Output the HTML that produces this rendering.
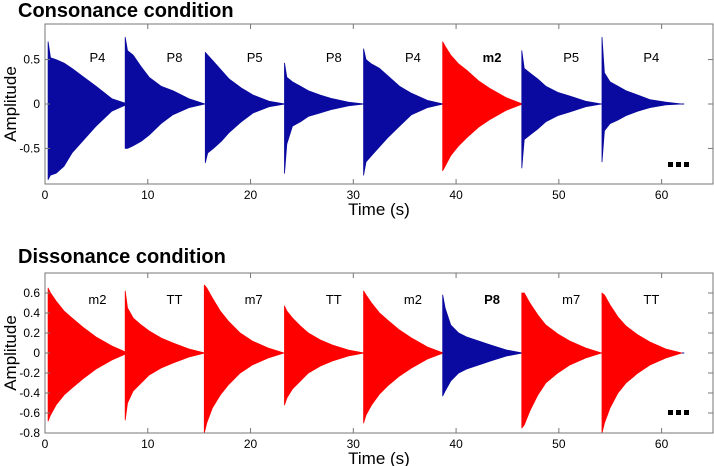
<!DOCTYPE html>
<html><head><meta charset="utf-8">
<style>
html,body{margin:0;padding:0;background:#fff;}
svg{display:block;font-family:"Liberation Sans",Arial,sans-serif;}
</style></head>
<body>
<svg id="chart" width="714" height="466" viewBox="0 0 714 466" xmlns="http://www.w3.org/2000/svg">
<text x="18" y="17" font-size="20" font-weight="bold">Consonance condition</text>
<text x="18" y="263" font-size="20" font-weight="bold">Dissonance condition</text>
<g id="p1"></g>
<g id="p2"></g>
</svg>
<script>
// Shared envelope sample fractions along each note (0 = onset, 1 = end)
const envFractions = [0, 0.03, 0.1, 0.2, 0.3, 0.45, 0.6, 0.8, 1.0];
const noteDuration = 7.75;

// Consonance panel data
const consStarts = [0.3, 7.8, 15.6, 23.3, 31.0, 38.7, 46.4, 54.2];
const consLabels = ["P4","P8","P5","P8","P4","m2","P5","P4"];
const consColors = ["blue","blue","blue","blue","blue","red","blue","blue"];
const consPos = [
 [0.70,0.52,0.50,0.46,0.40,0.30,0.20,0.06,0],
 [0.75,0.60,0.55,0.42,0.30,0.20,0.15,0.06,0],
 [0.58,0.55,0.48,0.38,0.28,0.18,0.10,0.03,0],
 [0.46,0.30,0.25,0.20,0.15,0.10,0.06,0.02,0],
 [0.62,0.50,0.45,0.40,0.32,0.20,0.12,0.04,0],
 [0.70,0.65,0.55,0.45,0.38,0.26,0.17,0.07,0],
 [0.60,0.40,0.35,0.28,0.20,0.13,0.09,0.03,0],
 [0.75,0.35,0.25,0.20,0.15,0.10,0.05,0.02,0]
];
const consNeg = [
 [-0.85,-0.80,-0.78,-0.70,-0.55,-0.40,-0.25,-0.08,0],
 [-0.50,-0.50,-0.47,-0.42,-0.35,-0.22,-0.12,-0.04,0],
 [-0.66,-0.55,-0.50,-0.42,-0.32,-0.20,-0.10,-0.03,0],
 [-0.78,-0.45,-0.25,-0.20,-0.14,-0.10,-0.06,-0.02,0],
 [-0.80,-0.65,-0.58,-0.48,-0.38,-0.25,-0.12,-0.04,0],
 [-0.75,-0.70,-0.58,-0.47,-0.38,-0.26,-0.17,-0.07,0],
 [-0.72,-0.40,-0.35,-0.28,-0.20,-0.13,-0.09,-0.03,0],
 [-0.65,-0.30,-0.22,-0.18,-0.13,-0.08,-0.04,-0.01,0]
];
const consYTicks = [-0.5, 0, 0.5];
const consYTickLabels = ["-0.5","0","0.5"];

// Dissonance panel data
const disStarts = [0.3, 7.8, 15.5, 23.3, 31.0, 38.7, 46.4, 54.2];
const disLabels = ["m2","TT","m7","TT","m2","P8","m7","TT"];
const disColors = ["red","red","red","red","red","blue","red","red"];
const disPos = [
 [0.65,0.60,0.52,0.42,0.35,0.25,0.16,0.07,0],
 [0.62,0.45,0.35,0.28,0.22,0.15,0.10,0.04,0],
 [0.68,0.65,0.55,0.42,0.32,0.20,0.12,0.05,0],
 [0.47,0.42,0.35,0.27,0.20,0.13,0.08,0.03,0],
 [0.62,0.58,0.50,0.40,0.33,0.23,0.15,0.06,0],
 [0.58,0.45,0.28,0.20,0.16,0.12,0.08,0.03,0],
 [0.60,0.60,0.50,0.38,0.28,0.19,0.12,0.05,0],
 [0.60,0.58,0.48,0.36,0.27,0.18,0.11,0.04,0]
];
const disNeg = [
 [-0.68,-0.62,-0.52,-0.42,-0.35,-0.25,-0.16,-0.07,0],
 [-0.67,-0.50,-0.38,-0.30,-0.22,-0.15,-0.10,-0.04,0],
 [-0.80,-0.70,-0.55,-0.42,-0.32,-0.20,-0.12,-0.05,0],
 [-0.52,-0.45,-0.36,-0.28,-0.20,-0.13,-0.08,-0.03,0],
 [-0.70,-0.62,-0.52,-0.41,-0.33,-0.23,-0.15,-0.06,0],
 [-0.43,-0.38,-0.28,-0.20,-0.16,-0.12,-0.08,-0.03,0],
 [-0.75,-0.72,-0.58,-0.42,-0.30,-0.20,-0.12,-0.05,0],
 [-0.80,-0.70,-0.55,-0.40,-0.30,-0.20,-0.12,-0.05,0]
];
const disYTicks = [-0.8,-0.6,-0.4,-0.2,0,0.2,0.4,0.6];
const disYTickLabels = ["-0.8","-0.6","-0.4","-0.2","0","0.2","0.4","0.6"];

const xTicks = [0,10,20,30,40,50,60];
const xTickLabels = ["0","10","20","30","40","50","60"];

const NS = "http://www.w3.org/2000/svg";
const colorMap = {blue:"#0a0aa0", red:"#ff0000"};

function mk(parent, tag, attrs){
  const e = document.createElementNS(NS, tag);
  for (const k in attrs) e.setAttribute(k, attrs[k]);
  parent.appendChild(e);
  return e;
}

function drawPanel(g, box, ylim, starts, labels, colors, pos, neg, yTicks, yTickLabels, labelY, dotsY){
  const xScale = t => box.x0 + (t - 0) / 65 * (box.x1 - box.x0);
  const yScale = v => box.y1 - (v - ylim[0]) / (ylim[1] - ylim[0]) * (box.y1 - box.y0);
  const bl = mk(g, "line", {x1: xScale(0), x2: xScale(62.2), y1: yScale(0), y2: yScale(0), stroke: "#0a0aa0", "stroke-width": 1});
  
  
  for (let i = 0; i < starts.length; i++){
    let pts = [];
    for (let j = 0; j < envFractions.length; j++)
      pts.push(xScale(starts[i] + envFractions[j]*noteDuration).toFixed(1) + "," + yScale(pos[i][j]).toFixed(1));
    for (let j = envFractions.length - 1; j >= 0; j--)
      pts.push(xScale(starts[i] + envFractions[j]*noteDuration).toFixed(1) + "," + yScale(neg[i][j]).toFixed(1));
    const p = mk(g, "polygon", {points: pts.join(" "), fill: colorMap[colors[i]], stroke: colorMap[colors[i]], "stroke-width": 0.8, "stroke-linejoin": "round"});
    
    
    const t = mk(g, "text", {x: xScale(starts[i] + 4.8), y: labelY, "font-size": 13, "text-anchor": "middle", "font-weight": (colors[i] !== colors[0] ? "bold" : "normal")});
    t.textContent = labels[i];
    
    
  }
  const fr = mk(g, "rect", {x: box.x0, y: box.y0, width: box.x1-box.x0, height: box.y1-box.y0, fill: "none", stroke: "#777", "stroke-width": 1});
  
  
  for (let i = 0; i < xTicks.length; i++){
    const x = xScale(xTicks[i]);
    mk(g, "line", {x1:x, x2:x, y1:box.y1, y2:box.y1-5, stroke:"#777"});
    mk(g, "line", {x1:x, x2:x, y1:box.y0, y2:box.y0+5, stroke:"#777"});
    const t = mk(g, "text", {x:x, y:box.y1+15, "font-size":12, "text-anchor":"middle"});
    t.textContent = xTickLabels[i];
    
    
  }
  for (let i = 0; i < yTicks.length; i++){
    const y = yScale(yTicks[i]);
    mk(g, "line", {x1:box.x0, x2:box.x0+5, y1:y, y2:y, stroke:"#777"});
    mk(g, "line", {x1:box.x1, x2:box.x1-5, y1:y, y2:y, stroke:"#777"});
    const t = mk(g, "text", {x:box.x0-5, y:y+4, "font-size":12, "text-anchor":"end"});
    t.textContent = yTickLabels[i];
    
    
  }
  const xl = mk(g, "text", {x:379, y:box.y1+31, "font-size":17, "text-anchor":"middle"});
  xl.textContent = "Time (s)";
  
  
  const cy = (box.y0+box.y1)/2;
  const yl = mk(g, "text", {x:0, y:0, "font-size":17, "text-anchor":"middle", transform:"translate(16,"+cy+") rotate(-90)"});
  yl.textContent = "Amplitude";
  
  
  for (let k = 0; k < 3; k++){
    const r = mk(g, "rect", {x: 668 + k*8, y: dotsY, width: 5, height: 5, fill: "#000"});
    
    
  }
}

drawPanel(document.getElementById("p1"), {x0:45, x1:713, y0:24, y1:184}, [-0.9, 0.9],
  consStarts, consLabels, consColors, consPos, consNeg, consYTicks, consYTickLabels, 62, 162);
drawPanel(document.getElementById("p2"), {x0:45, x1:713, y0:273, y1:433}, [-0.8, 0.8],
  disStarts, disLabels, disColors, disPos, disNeg, disYTicks, disYTickLabels, 304, 410);
</script>
</body></html>
